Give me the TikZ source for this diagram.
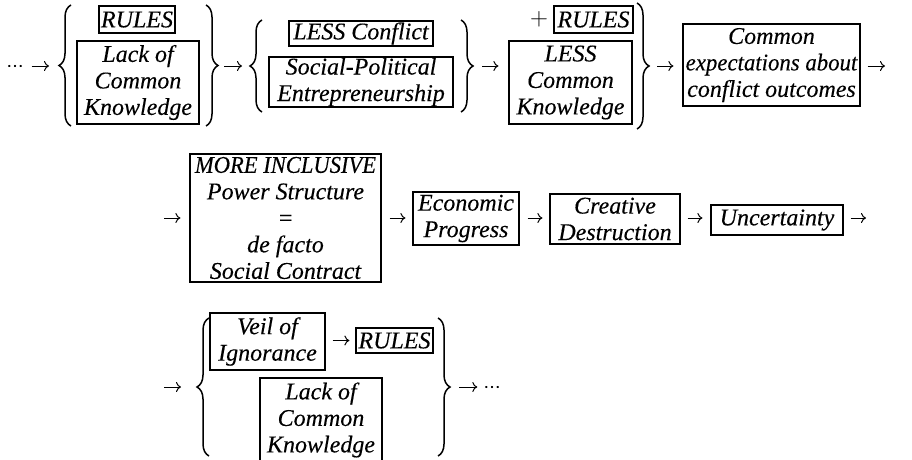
\documentclass[tikz,border=0pt]{standalone}
\usepackage{fontspec}
\setmainfont{Liberation Serif}[FakeBold=0.2]
\usetikzlibrary{decorations.pathreplacing,arrows.meta}
\newcommand\bx[6]{\node[box,minimum width={#4-#2},minimum height={#5-#3}] (#1) at ({(#2+#4)/2},{(#3+#5)/2}) {#6};}
\begin{document}
\begin{tikzpicture}[x=1pt,y=-1pt,
  box/.style={draw,line width=1.2pt,inner sep=0pt,align=center,font=\itshape\fontsize{24}{26.5}\selectfont},
  lbl/.style={inner sep=0pt,font=\fontsize{24}{26}\selectfont},
  dotsl/.style={inner sep=0pt,font=\fontsize{17}{20}\selectfont},
  brc/.style={decorate,decoration={brace,amplitude=12pt,aspect=0.5},line width=1.5pt},
  arr/.style={-{To[length=5pt,width=10pt]},line width=1pt}]
\useasboundingbox (0,0) rectangle (912,460);

% ---------- row 1 ----------
\node[dotsl] (dots1) at (15,66) {…};
\bx{rules1}{99}{6}{175}{33}{RULES}
\bx{lck1}{77}{41}{199}{124}{Lack of\\Common\\Knowledge}
\bx{lessc}{289}{21}{433}{46}{LESS Conf{}lict}
\bx{spe}{269}{57}{453}{107}{Social-Political\\Entrepreneurship}
\node[lbl] (plus) at (539,19) {$+$};
\bx{rules2}{554}{6}{633}{33}{RULES}
\bx{lck2}{509}{41}{632}{124}{LESS\\Common\\Knowledge}
\bx{ce}{683}{24}{860}{106}{Common\\\scalebox{0.95}[1]{expectations about}\\conf{}lict outcomes}

\coordinate (l1b) at (71,126); \coordinate (l1t) at (71,5);  \coordinate (l1tip) at (59,66);
\coordinate (r1t) at (206,5);  \coordinate (r1b) at (206,126); \coordinate (r1tip) at (218,66);
\coordinate (l2b) at (262,112); \coordinate (l2t) at (262,20); \coordinate (l2tip) at (250,66);
\coordinate (r2t) at (461,20); \coordinate (r2b) at (461,112); \coordinate (r2tip) at (473,66);
\coordinate (r3t) at (637,3);  \coordinate (r3b) at (637,129); \coordinate (r3tip) at (649,66);
\coordinate (e1) at (885,66);

\draw[brc] (l1b) -- (l1t);
\draw[brc] (r1t) -- (r1b);
\draw[brc] (l2b) -- (l2t);
\draw[brc] (r2t) -- (r2b);
\draw[brc] (r3t) -- (r3b);

\draw[arr,shorten <=8pt,shorten >=10pt] (dots1.east) -- (l1tip);
\draw[arr,shorten <=6pt,shorten >=8pt] (r1tip) -- (l2tip);
\draw[arr,shorten <=9pt,shorten >=10pt] (r2tip) -- (lck2.west |- r2tip);
\draw[arr,shorten <=8pt,shorten >=9pt] (r3tip) -- (ce.west |- r3tip);
\draw[arr,shorten <=7pt] (ce.east |- e1) -- (e1);

% ---------- row 2 ----------
\coordinate (s2) at (164,218);
\bx{mi}{190}{154}{381}{282}{\scalebox{0.94}[1]{MORE INCLUSIVE}\\Power Structure\\=\\de facto\\Social Contract}
\bx{ep}{413}{192}{519}{245}{Economic\\Progress}
\bx{cd}{550}{194}{680}{244}{Creative\\Destruction}
\bx{un}{711}{205}{843}{235}{Uncertainty}
\coordinate (e2) at (866,218);

\draw[arr,shorten >=9pt] (s2) -- (mi.west |- s2);
\draw[arr,shorten <=8pt,shorten >=7pt] (mi.east |- s2) -- (ep.west |- s2);
\draw[arr,shorten <=8pt,shorten >=7pt] (ep.east |- s2) -- (cd.west |- s2);
\draw[arr,shorten <=7pt,shorten >=8pt] (cd.east |- s2) -- (un.west |- s2);
\draw[arr,shorten <=7pt] (un.east |- e2) -- (e2);

% ---------- row 3 ----------
\coordinate (s3) at (164,387);
\bx{voi}{210}{313}{325}{370}{Veil of\\Ignorance}
\bx{rules3}{356}{328}{433}{353}{RULES}
\bx{lck3}{260}{378}{382}{462}{Lack of\\Common\\Knowledge}
\node[dotsl] (dots2) at (492,387) {…};

\coordinate (l3b) at (209,456); \coordinate (l3t) at (209,318); \coordinate (l3tip) at (196,387);
\coordinate (r4t) at (438,318); \coordinate (r4b) at (438,456); \coordinate (r4tip) at (450,387);
\draw[brc] (l3b) -- (l3t);
\draw[brc] (r4t) -- (r4b);

\draw[arr,shorten >=15pt] (s3) -- (l3tip);
\draw[arr,shorten <=7pt,shorten >=6pt] (voi.east |- rules3) -- (rules3.west);
\draw[arr,shorten <=9pt,shorten >=6pt] (r4tip) -- (dots2.west);
\end{tikzpicture}
\end{document}
